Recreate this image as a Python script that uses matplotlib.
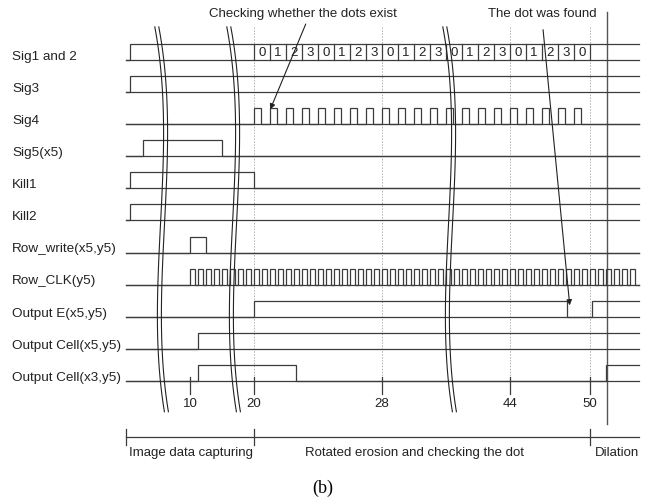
import numpy as np
import matplotlib
matplotlib.use("Agg")
import matplotlib.pyplot as plt

plt.rcParams['font.family'] = ['Liberation Sans', 'DejaVu Sans']

# signal names, top to bottom
names = ["Sig1 and 2", "Sig3", "Sig4", "Sig5(x5)", "Kill1", "Kill2",
         "Row_write(x5,y5)", "Row_CLK(y5)", "Output E(x5,y5)",
         "Output Cell(x5,y5)", "Output Cell(x3,y5)"]

# toggle times (schematic time units, 1 unit = one Row_CLK period), start low
sig12_edges = [0.5]
sig3_edges = [0.5]
sig4_rise = [16, 18, 20, 22, 24, 26, 28, 30, 32, 34, 36, 38, 40, 42, 44,
             46, 48, 50, 52, 54, 56]
sig5_edges = [2.1, 12]
kill1_edges = [0.5, 16]
kill2_edges = [0.5]
roww_edges = [8, 10]
rowclk_rise = [8, 9, 10, 11, 12, 13, 14, 15, 16, 17, 18, 19, 20, 21, 22, 23,
               24, 25, 26, 27, 28, 29, 30, 31, 32, 33, 34, 35, 36, 37, 38, 39,
               40, 41, 42, 43, 44, 45, 46, 47, 48, 49, 50, 51, 52, 53, 54, 55,
               56, 57, 58, 59, 60, 61, 62, 63]
oute_edges = [16, 55.1, 58.2]
cell5_edges = [9]
cell3_edges = [9, 21.25, 60]

# bus values on Sig1 and 2
bus_start = 16
bus_vals = ["0", "1", "2", "3", "0", "1", "2", "3", "0", "1", "2", "3",
            "0", "1", "2", "3", "0", "1", "2", "3", "0"]

# time axis
tick_pos = [8, 16, 32, 48, 58]
tick_lab = ["10", "20", "28", "44", "50"]
grid_pos = [16, 32, 48, 58]
phase_pos = [0, 16, 58]
phase_lab = ["Image data capturing", "Rotated erosion and checking the dot", "Dilation"]

t_end = 64.1
amp = 0.5
col = '#3c3c3c'

def pulses_to_edges(rises, width):
    e = []
    for r in rises:
        e += [r, r + width]
    return e

def wave(edges, t0=0.0, t1=t_end):
    xs, ys = [t0], [0]
    lvl = 0
    for t in edges:
        xs += [t, t]
        ys += [lvl, 1 - lvl]
        lvl = 1 - lvl
    xs.append(t1)
    ys.append(lvl)
    return np.array(xs), np.array(ys)

fig = plt.figure(figsize=(6.45, 5.02), dpi=100)
ax = fig.add_axes([0, 0, 1, 1])
ax.set_xlim(-15.75, 64.875)
ax.set_ylim(13.74, -1.9)
ax.axis('off')

# grid
for g in grid_pos:
    ax.plot([g, g], [-1.03, 9.88], color='#b0b0b0', lw=0.7, ls=(0, (1.5, 1.5)))
ax.plot([60.1, 60.1], [-1.5, 11.34], color='#555555', lw=1.0)

sigs = [sig12_edges, sig3_edges, pulses_to_edges(sig4_rise, 0.9), sig5_edges,
        kill1_edges, kill2_edges, roww_edges, pulses_to_edges(rowclk_rise, 0.62),
        oute_edges, cell5_edges, cell3_edges]

for i, (nm, ed) in enumerate(zip(names, sigs)):
    ax.plot([0, t_end], [i, i], color=col, lw=0.9)   # baseline always drawn
    xs, ys = wave(ed)
    ax.plot(xs, i - amp * ys, color=col, lw=0.9, solid_joinstyle='miter')
    ax.text(-14.25, i - 0.13, nm, fontsize=9.7, ha='left', va='center', color='#222222')

# bus cells
n = len(bus_vals)
for k in range(n + 1):
    ax.plot([bus_start + 2 * k] * 2, [0, -amp], color=col, lw=0.9)
for k, v in enumerate(bus_vals):
    ax.text(bus_start + 2 * k + 1, -amp / 2, v, fontsize=9.5, ha='center',
            va='center', color='#222222')

# break marks
yb = np.array([-1.03, 3.55, 8.54, 10.96])
xb = np.array([0, 1.0, 0.35, 1.2])
cf = np.polyfit(yb, xb, 3)
yy = np.linspace(-1.03, 10.96, 120)
for c in [3.6, 12.6, 39.6]:
    for d in [0, 0.5]:
        ax.plot(c + d + np.polyval(cf, yy), yy, color='#222222', lw=0.8)

# ticks
for p, l in zip(tick_pos, tick_lab):
    ax.plot([p, p], [9.88, 10.4], color=col, lw=0.9)
    ax.text(p, 10.69, l, fontsize=9.5, ha='center', va='center', color='#222222')

# phases
ax.plot([0, t_end], [11.74, 11.74], color=col, lw=0.9)
for p in phase_pos:
    ax.plot([p, p], [11.5, 12.0], color=col, lw=0.9)
ax.text(phase_pos[0] + 0.4, 12.21, phase_lab[0], fontsize=9.5, ha='left', va='center', color='#222222')
ax.text(36.1, 12.21, phase_lab[1], fontsize=9.5, ha='center', va='center', color='#222222')
ax.text(phase_pos[2] + 0.6, 12.21, phase_lab[2], fontsize=9.5, ha='left', va='center', color='#222222')

# annotations
ax.text(22.1, -1.47, "Checking whether the dots exist", fontsize=9.5, ha='center', va='center', color='#222222')
ax.annotate("", xy=(17.9, 1.62), xytext=(22.6, -1.2),
            arrowprops=dict(arrowstyle='-|>', color='#222222', lw=0.8, mutation_scale=8))
ax.text(52.1, -1.45, "The dot was found", fontsize=9.5, ha='center', va='center', color='#222222')
ax.annotate("", xy=(55.5, 7.73), xytext=(52.1, -1.03),
            arrowprops=dict(arrowstyle='-|>', color='#222222', lw=0.8, mutation_scale=8))

ax.text(24.6, 13.3, "(b)", fontsize=13, ha='center', va='center', family='Liberation Serif')

fig.savefig('out.png', dpi=100)
